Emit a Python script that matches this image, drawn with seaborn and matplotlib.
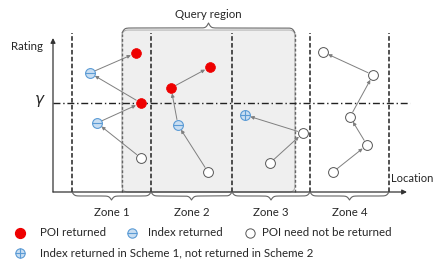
import numpy as np
import pandas as pd
import seaborn as sns
import matplotlib.pyplot as plt
from matplotlib.patches import FancyBboxPatch

# Zonen und Abfragebereich (Location-Einheiten)
zone_edges = [19, 98, 179, 257, 336]
zone_labels = ["Zone 1", "Zone 2", "Zone 3", "Zone 4"]
query_left, query_right, query_top = 69, 242, 162
gamma = 89

# Punkte: Location, Rating, Typ, Kette
loc = [88, 44, 88, 37, 83, 155, 125, 118, 157, 217, 250, 192, 280, 314, 297, 320, 270]
rating = [34, 69, 89, 119, 139, 20, 67, 104, 125, 29, 59, 77, 20, 47, 75, 117, 140]
kind = ["skip", "index", "poi", "index", "poi",
        "skip", "index", "poi", "poi",
        "skip", "skip", "index1",
        "skip", "skip", "skip", "skip", "skip"]
chain = [1] * 5 + [2] * 4 + [3] * 3 + [4] * 5

legend_labels = ["POI returned", "Index returned", "POI need not be returned",
                 "Index returned in Scheme 1, not returned in Scheme 2"]

df = pd.DataFrame({"loc": loc, "rating": rating, "kind": kind, "chain": chain})

sns.set_theme(style="white")
plt.rcParams['font.family'] = ["Lato", "DejaVu Sans"]
FS = 8.3

fig = plt.figure(figsize=(4.35, 2.61), dpi=100)
ax = fig.add_axes([0, 0, 1, 1])
ax.set_xlim(-53, 382)
ax.set_ylim(-69, 192)
ax.axis("off")

RED = "#ee0000"
BFACE, BEDGE = "#c9def2", "#5b9bd5"
GREY = "#555555"


def brace(x0, x1, y, h, beta=0.8):
    half = (x1 - x0) / 2
    t = np.linspace(0, half, 80)
    f = 1 / (1 + np.exp(-beta * t)) + 1 / (1 + np.exp(-beta * (t - half))) - 0.5
    xs = np.concatenate([x0 + t, x1 - t[::-1]])
    ys = np.concatenate([f, f[::-1]])
    ax.plot(xs, y + h * ys, color="#666666", lw=0.8, zorder=3)


# Abfragebereich
ax.add_patch(FancyBboxPatch((query_left, 0), query_right - query_left, query_top,
                            boxstyle="round,pad=0,rounding_size=6",
                            facecolor="#efefef", edgecolor="#b0b0b0", lw=0.8, zorder=0))
brace(query_left, query_right, 159, 10)
ax.text((query_left + query_right) / 2, 178, "Query region", ha="center", va="center", fontsize=FS)

# Zonengrenzen
for xe in zone_edges:
    ax.plot([xe, xe], [0, 159], color="#222222", lw=1.1, ls=(0, (3, 1.5)), zorder=1)
for xe in [query_left, query_right]:
    ax.plot([xe, xe], [0, 158], color="#666666", lw=1.0, ls=(0, (2, 1.5)), zorder=1)

# Schwelle gamma
ax.plot([0, 357], [gamma, gamma], color="#222222", lw=1.0, ls=(0, (5, 2, 1, 2)), zorder=1)
ax.text(-13, gamma + 2, r"$\gamma$", fontsize=11, ha="center", va="center", family="DejaVu Serif")

# Achsen
ax.annotate("", xy=(354, 0), xytext=(0, 0),
            arrowprops=dict(arrowstyle="-|>", color="#333333", lw=0.9, mutation_scale=7, shrinkA=0, shrinkB=0))
ax.annotate("", xy=(0, 154), xytext=(0, 0),
            arrowprops=dict(arrowstyle="-|>", color="#333333", lw=0.9, mutation_scale=7, shrinkA=0, shrinkB=0))
ax.text(-26, 146, "Rating", ha="center", va="center", fontsize=FS)
ax.text(338, 14, "Location", ha="left", va="center", fontsize=8)

# Zonen-Klammern unten
for i, lab in enumerate(zone_labels):
    brace(zone_edges[i], zone_edges[i + 1], 0, -8)
    ax.text((zone_edges[i] + zone_edges[i + 1]) / 2, -20, lab, ha="center", va="center", fontsize=FS)

# Pfeile zwischen aufeinanderfolgenden Punkten
for c, g in df.groupby("chain"):
    pts = g[["loc", "rating"]].to_numpy()
    for a, b in zip(pts[:-1], pts[1:]):
        ax.annotate("", xy=b, xytext=a,
                    arrowprops=dict(arrowstyle="-|>", color="#7f7f7f", lw=0.7,
                                    mutation_scale=5, shrinkA=4, shrinkB=4), zorder=2)

# Punkte
sns.scatterplot(data=df[df.kind == "poi"], x="loc", y="rating", ax=ax, s=50,
                color=RED, edgecolor=RED, linewidth=0.5, zorder=5, legend=False)
idx = df[df.kind.isin(["index", "index1"])]
sns.scatterplot(data=idx, x="loc", y="rating", ax=ax, s=50,
                color=BFACE, edgecolor=BEDGE, linewidth=0.8, zorder=5, legend=False)
ax.scatter(df.loc[df.kind == "index", "loc"], df.loc[df.kind == "index", "rating"],
           marker="_", s=50, color=BEDGE, linewidths=0.8, zorder=6)
ax.scatter(df.loc[df.kind == "index1", "loc"], df.loc[df.kind == "index1", "rating"],
           marker="+", s=50, color=BEDGE, linewidths=0.8, zorder=6)
sns.scatterplot(data=df[df.kind == "skip"], x="loc", y="rating", ax=ax, s=50,
                color="white", edgecolor=GREY, linewidth=0.7, zorder=5, legend=False)

# Legende (manuell)
ax.scatter([-33], [-41], s=50, color=RED, edgecolor=RED, zorder=5)
ax.text(-13, -41, legend_labels[0], va="center", fontsize=FS)
ax.scatter([79], [-41], s=45, color=BFACE, edgecolor=BEDGE, linewidths=0.8, zorder=5)
ax.scatter([79], [-41], s=45, marker="_", color=BEDGE, linewidths=0.8, zorder=6)
ax.text(95, -41, legend_labels[1], va="center", fontsize=FS)
ax.scatter([197], [-41], s=45, color="white", edgecolor=GREY, linewidths=0.7, zorder=5)
ax.text(209, -41, legend_labels[2], va="center", fontsize=FS)
ax.scatter([-33], [-61], s=45, color=BFACE, edgecolor=BEDGE, linewidths=0.8, zorder=5)
ax.scatter([-33], [-61], s=45, marker="+", color=BEDGE, linewidths=0.8, zorder=6)
ax.text(-13, -61, legend_labels[3], va="center", fontsize=FS)

ax.set_xlabel("")
ax.set_ylabel("")
fig.savefig("out.png", dpi=100)
